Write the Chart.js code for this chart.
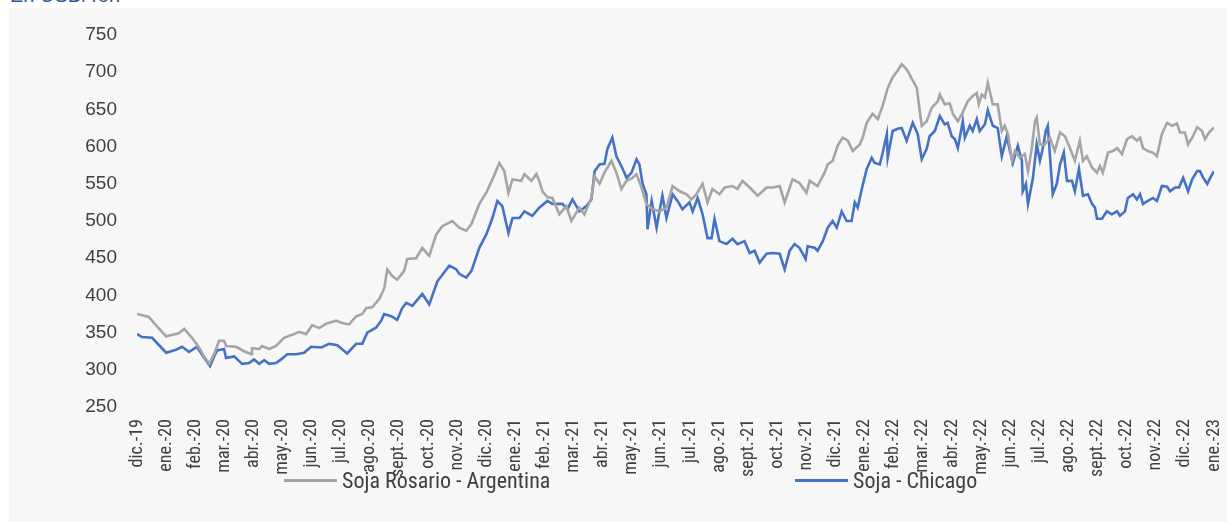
<!DOCTYPE html>
<html><head><meta charset="utf-8">
<script src="https://cdn.jsdelivr.net/npm/chart.js@4.4.0/dist/chart.umd.min.js"></script>
<style>
html,body{margin:0;padding:0;background:#fff;overflow:hidden;width:1227px;height:522px;}
#title{position:absolute;left:10px;top:-15px;font:20px 'Liberation Sans',Arial,sans-serif;line-height:20px;color:#2f5597;white-space:nowrap;}
#panel{position:absolute;left:9px;top:8px;width:1218px;height:514px;background:#f7f7f7;}
#c{position:absolute;left:0;top:0;}
.leg{position:absolute;top:452px;height:40px;display:flex;align-items:center;color:#404040;white-space:nowrap;}
.leg i{display:inline-block;width:53px;height:3px;margin-right:5px;}
</style></head>
<body>
<div id="title">En USD/Ton</div>
<div id="panel">
<canvas id="c" width="1218" height="472"></canvas>
<div class="leg" id="leg0" style="left:275px"></div>
<div class="leg" id="leg1" style="left:786px"></div>
</div>
<script>
const months = ["dic.-19","ene.-20","feb.-20","mar.-20","abr.-20","may.-20","jun.-20","jul.-20","ago.-20","sept.-20","oct.-20","nov.-20","dic.-20","ene.-21","feb.-21","mar.-21","abr.-21","may.-21","jun.-21","jul.-21","ago.-21","sept.-21","oct.-21","nov.-21","dic.-21","ene.-22","feb.-22","mar.-22","abr.-22","may.-22","jun.-22","jul.-22","ago.-22","sept.-22","oct.-22","nov.-22","dic.-22","ene.-23"];
const seriesNames = ["Soja Rosario - Argentina", "Soja - Chicago"];
const yMin = 250, yMax = 750, yStep = 50;

// time positions in months since dic.-19
const rosarioT = [0,0.41,0.58,1.00,1.44,1.62,1.89,2.13,2.30,2.48,
2.65,2.82,2.99,3.06,3.40,3.68,3.92,3.95,4.20,4.30,
4.54,4.78,5.05,5.33,5.57,5.81,6.02,6.26,6.50,6.84,
7.05,7.29,7.53,7.74,7.88,8.08,8.32,8.49,8.60,8.77,
8.94,9.18,9.28,9.59,9.80,10.04,10.28,10.49,10.83,11.07,
11.31,11.49,11.76,12.00,12.21,12.45,12.62,12.76,12.90,13.20,
13.31,13.55,13.72,13.82,13.93,14.10,14.27,14.51,14.75,14.92,
15.20,15.37,15.61,15.72,15.89,16.06,16.30,16.47,16.64,16.82,
17.02,17.16,17.33,17.50,17.71,17.95,18.19,18.40,18.64,18.88,
19.05,19.22,19.43,19.60,19.77,20.01,20.19,20.46,20.63,20.80,
21.05,21.32,21.63,21.84,22.08,22.25,22.52,22.76,23.00,23.11,
23.38,23.62,23.73,23.90,24.07,24.24,24.42,24.59,24.83,24.93,
25.07,25.27,25.45,25.62,25.79,25.96,26.13,26.27,26.44,26.62,
26.79,26.86,26.96,27.13,27.30,27.51,27.58,27.75,27.92,28.03,
28.20,28.37,28.54,28.71,28.85,28.92,29.02,29.13,29.23,29.40,
29.57,29.71,29.81,29.92,30.06,30.16,30.33,30.50,30.61,30.74,
30.85,30.91,31.02,31.19,31.36,31.53,31.71,31.88,32.05,32.22,
32.39,32.50,32.63,32.81,32.98,33.08,33.18,33.36,33.53,33.67,
33.84,34.01,34.18,34.35,34.46,34.56,34.73,34.90,35.04,35.08,
35.21,35.39,35.56,35.73,35.83,36.00,36.11,36.25,36.42,36.59,
36.69,36.83,37.00];
const rosarioV = [375,371,363,345,349,355,343,330,318,308,
321,339,339,332,331,325,321,329,328,332,
328,332,343,347,351,348,360,356,362,366,
363,361,372,375,383,384,395,409,435,426,
421,433,449,450,464,453,482,493,500,491,
487,496,523,538,556,578,567,538,556,554,
563,554,563,554,540,532,531,509,520,500,
518,509,531,560,550,565,581,565,543,554,
558,563,545,523,516,513,518,547,540,536,
529,536,550,525,543,536,545,547,543,554,
545,534,545,545,547,525,556,551,538,554,
547,565,576,581,601,612,608,594,603,612,
632,644,637,655,679,693,702,711,704,691,
679,657,628,634,652,661,670,657,658,644,
634,646,661,668,672,657,670,666,686,657,
657,621,628,617,581,594,585,590,567,598,
634,639,603,603,612,594,619,614,598,581,
608,581,587,572,565,574,565,592,594,598,
590,610,614,608,612,598,594,592,587,594,
617,632,628,631,619,619,603,612,626,621,
610,619,626];

const chicagoT = [0,0.17,0.52,0.76,1.00,1.34,1.55,1.79,2.06,2.24,
2.51,2.65,2.75,2.99,3.06,3.34,3.61,3.85,4.02,4.20,
4.37,4.54,4.78,4.95,5.16,5.47,5.74,5.98,6.33,6.60,
6.88,7.22,7.53,7.74,7.91,8.22,8.39,8.49,8.73,8.94,
9.11,9.25,9.46,9.80,10.04,10.32,10.73,10.97,11.07,11.31,
11.49,11.76,12.00,12.21,12.38,12.55,12.76,12.90,13.14,13.31,
13.58,13.82,14.10,14.27,14.61,14.79,14.96,15.20,15.44,15.61,
15.72,15.89,16.06,16.16,16.33,16.47,16.64,16.82,16.99,17.16,
17.26,17.37,17.50,17.54,17.68,17.85,17.95,18.05,18.19,18.40,
18.57,18.74,18.98,19.09,19.26,19.43,19.60,19.74,19.84,20.01,
20.25,20.46,20.63,20.87,21.05,21.22,21.39,21.63,21.84,22.08,
22.25,22.42,22.59,22.76,22.97,23.04,23.28,23.38,23.56,23.73,
23.90,24.04,24.21,24.38,24.55,24.66,24.76,24.90,25.07,25.24,
25.34,25.52,25.62,25.76,25.79,25.96,26.13,26.27,26.44,26.65,
26.82,26.96,27.13,27.23,27.41,27.58,27.75,27.85,27.99,28.10,
28.20,28.37,28.44,28.61,28.71,28.85,28.95,29.13,29.23,29.40,
29.57,29.71,29.88,29.99,30.09,30.26,30.40,30.43,30.54,30.61,
30.78,30.91,31.02,31.12,31.22,31.29,31.46,31.60,31.71,31.84,
31.95,32.12,32.22,32.36,32.50,32.67,32.81,32.91,32.98,33.15,
33.32,33.49,33.67,33.77,33.94,34.04,34.22,34.35,34.46,34.56,
34.73,34.90,35.04,35.21,35.39,35.49,35.66,35.80,35.94,36.11,
36.25,36.42,36.52,36.63,36.77,36.87,37.00];
const chicagoV = [348,344,343,333,323,327,331,324,331,320,
305,318,326,328,316,318,308,309,314,308,
313,308,309,314,321,321,323,331,330,335,
333,322,335,335,350,357,366,375,372,367,
383,390,386,402,388,419,440,435,429,424,
433,464,482,504,527,520,484,504,504,513,
507,518,527,523,523,516,529,513,520,529,
567,576,577,597,612,587,574,558,565,583,
576,550,536,489,527,491,513,534,504,536,
527,516,525,513,531,509,477,477,503,473,
469,476,469,473,457,460,444,456,457,456,
435,460,469,464,449,466,464,460,473,491,
500,491,513,500,500,525,518,543,570,585,
578,576,592,617,585,621,624,625,608,632,
617,583,597,614,621,641,630,632,614,610,
598,634,612,628,621,637,621,630,649,628,
625,587,614,594,578,601,581,540,550,523,
558,603,581,598,621,628,536,550,576,592,
554,554,540,570,534,536,523,518,503,503,
513,509,513,507,513,531,536,529,536,523,
527,531,527,547,546,540,545,545,558,540,
556,567,567,558,550,558,567];

const colors = ["#a5a5a5", "#4472c4"];
const toPoints = (T, V) => T.map((t, i) => ({x: t, y: V[i]}));

// pick an installed condensed font, and size it to the reference text widths
const mctx = document.createElement('canvas').getContext('2d');
function installed(f) {
  const s = 'sept.-20 Soja Rosario';
  for (const g of ['monospace', 'serif']) {
    mctx.font = '40px ' + g; const w0 = mctx.measureText(s).width;
    mctx.font = "40px '" + f + "', " + g; const w1 = mctx.measureText(s).width;
    if (Math.abs(w0 - w1) < 0.01) return false;
  }
  return true;
}
const narrowName = ['Liberation Sans Narrow', 'Roboto Condensed', 'Arial Narrow', 'Open Sans Condensed', 'DejaVu Sans Condensed'].find(installed) || 'DejaVu Sans Condensed';
const narrow = "'" + narrowName + "', sans-serif";
function sizeFor(text, target) { mctx.font = '100px ' + narrow; return 100 * target / mctx.measureText(text).width; }
const xTickSize = Math.min(19, sizeFor('sept.-20', 58));
const legendSize = Math.min(22, sizeFor(seriesNames[0], 211));

const chart = new Chart(document.getElementById('c'), {
  type: 'line',
  data: {
    datasets: [
      {label: seriesNames[0], data: toPoints(rosarioT, rosarioV), borderColor: colors[0], backgroundColor: colors[0], borderWidth: 2.6, pointRadius: 0, tension: 0, fill: false},
      {label: seriesNames[1], data: toPoints(chicagoT, chicagoV), borderColor: colors[1], backgroundColor: colors[1], borderWidth: 2.6, pointRadius: 0, tension: 0, fill: false}
    ]
  },
  options: {
    responsive: false,
    animation: false,
    layout: {padding: {top: 0, right: 13, left: 0, bottom: 0}},
    plugins: {legend: {display: false}, tooltip: {enabled: false}},
    scales: {
      x: {
        type: 'linear', min: 0, max: months.length - 1,
        grid: {display: false, drawTicks: false}, border: {display: false},
        afterBuildTicks: s => { s.ticks = months.map((_, i) => ({value: i})); },
        afterFit: s => { s.height = 73; },
        ticks: {
          autoSkip: false, minRotation: 90, maxRotation: 90, padding: 12,
          color: '#404040', font: {family: narrow, size: xTickSize, lineHeight: 0.02},
          callback: v => months[v]
        }
      },
      y: {
        min: yMin, max: yMax,
        grid: {display: false, drawTicks: false}, border: {display: false},
        afterFit: s => { s.width = 128; },
        ticks: {stepSize: yStep, padding: 20, color: '#404040', font: {family: "'Liberation Sans',Arial,sans-serif", size: 19, lineHeight: 0.74}}
      }
    }
  }
});

chart.data.datasets.forEach((ds, i) => {
  const el = document.getElementById('leg' + i);
  el.style.font = legendSize.toFixed(2) + 'px ' + narrow;
  const sw = document.createElement('i');
  sw.style.background = ds.borderColor;
  el.appendChild(sw);
  el.appendChild(document.createTextNode(ds.label));
});
</script>
</body></html>
